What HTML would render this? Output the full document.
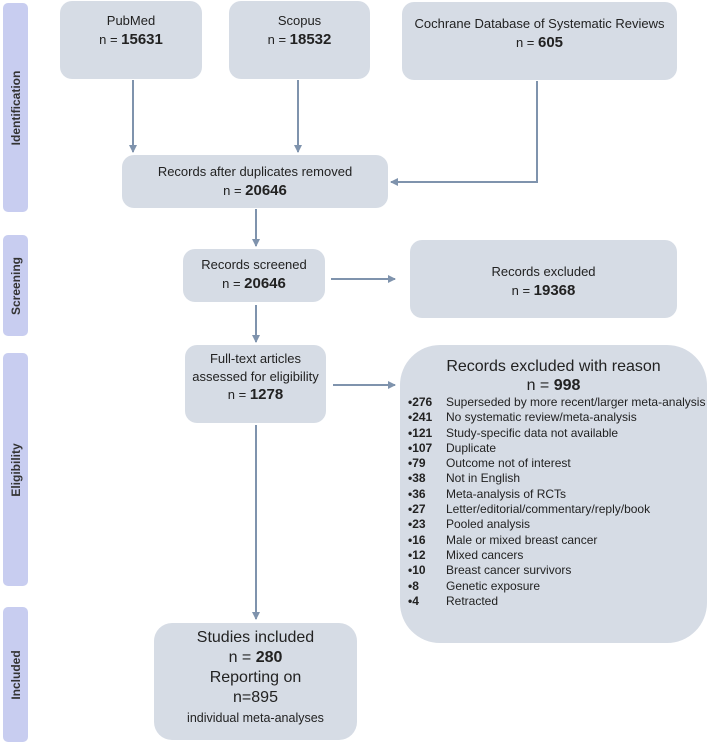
<!DOCTYPE html>
<html><head><meta charset="utf-8"><style>
body{margin:0;width:708px;height:746px;background:#fff;position:relative;font-family:"Liberation Sans",sans-serif;color:#222;overflow:hidden}
.b{position:absolute;background:#d6dce5;border-radius:12px;text-align:center;font-size:13px;line-height:19px;box-sizing:border-box}
.s{position:absolute;background:#c8cdf0;border-radius:5px;left:3px;width:25px}
.s span{position:absolute;left:50%;top:50%;transform:translate(-50%,-50%) rotate(-90deg);font-weight:bold;font-size:12px;white-space:nowrap;color:#333}
b{font-weight:bold;font-size:15px}
.li{display:flex;font-size:12px;line-height:15.3px;text-align:left;white-space:nowrap}
.li b{font-size:12px;width:38px;flex:none;display:inline-block}
</style></head><body>
<div class="s" style="top:3px;height:209px"><span>Identification</span></div>
<div class="s" style="top:235px;height:101px"><span>Screening</span></div>
<div class="s" style="top:353px;height:233px"><span>Eligibility</span></div>
<div class="s" style="top:607px;height:135px"><span>Included</span></div>

<div class="b" style="left:60px;top:1px;width:142px;height:78px;padding-top:10px">PubMed<br>n = <b>15631</b></div>
<div class="b" style="left:229px;top:1px;width:141px;height:78px;padding-top:10px">Scopus<br>n = <b>18532</b></div>
<div class="b" style="left:402px;top:2px;width:275px;height:78px;padding-top:12px">Cochrane Database of Systematic Reviews<br>n = <b>605</b></div>
<div class="b" style="left:122px;top:155px;width:266px;height:53px;padding-top:7px">Records after duplicates removed<br>n = <b>20646</b></div>
<div class="b" style="left:183px;top:249px;width:142px;height:53px;padding-top:6px">Records screened<br>n = <b>20646</b></div>
<div class="b" style="left:410px;top:240px;width:267px;height:78px;padding-top:22px">Records excluded<br>n = <b>19368</b></div>
<div class="b" style="left:185px;top:345px;width:141px;height:78px;padding-top:5px;line-height:18px">Full-text articles<br>assessed for eligibility<br>n = <b>1278</b></div>
<div class="b" style="left:154px;top:623px;width:203px;height:117px;padding-top:5px;font-size:16px;line-height:20px;border-radius:18px">Studies included<br>n = <b style="font-size:16px">280</b><br>Reporting on<br>n=895<br><span style="font-size:12.5px">individual meta-analyses</span></div>
<div class="b" style="left:400px;top:345px;width:307px;height:298px;padding:12px 0 0 8px;border-radius:40px">
<div style="font-size:16px;line-height:19px;text-align:center;padding-right:8px">Records excluded with reason<br>n = <b style="font-size:16px">998</b></div>
<div class="li"><b>•276</b>Superseded by more recent/larger meta-analysis</div>
<div class="li"><b>•241</b>No systematic review/meta-analysis</div>
<div class="li"><b>•121</b>Study-specific data not available</div>
<div class="li"><b>•107</b>Duplicate</div>
<div class="li"><b>•79</b>Outcome not of interest</div>
<div class="li"><b>•38</b>Not in English</div>
<div class="li"><b>•36</b>Meta-analysis of RCTs</div>
<div class="li"><b>•27</b>Letter/editorial/commentary/reply/book</div>
<div class="li"><b>•23</b>Pooled analysis</div>
<div class="li"><b>•16</b>Male or mixed breast cancer</div>
<div class="li"><b>•12</b>Mixed cancers</div>
<div class="li"><b>•10</b>Breast cancer survivors</div>
<div class="li"><b>•8</b>Genetic exposure</div>
<div class="li"><b>•4</b>Retracted</div>
</div>

<svg width="708" height="746" style="position:absolute;left:0;top:0" fill="none" stroke="#7f93ad" stroke-width="2">
<defs><marker id="a" markerWidth="8" markerHeight="8" refX="7" refY="4" orient="auto" markerUnits="userSpaceOnUse"><path d="M0,0 L8,4 L0,8Z" fill="#7f93ad" stroke="none"/></marker></defs>
<line x1="133" y1="80" x2="133" y2="152" marker-end="url(#a)"/>
<line x1="298" y1="80" x2="298" y2="152" marker-end="url(#a)"/>
<polyline points="537,81 537,182 391,182" marker-end="url(#a)"/>
<line x1="256" y1="209" x2="256" y2="246" marker-end="url(#a)"/>
<line x1="256" y1="305" x2="256" y2="342" marker-end="url(#a)"/>
<line x1="256" y1="425" x2="256" y2="619" marker-end="url(#a)"/>
<line x1="331" y1="279" x2="395" y2="279" marker-end="url(#a)"/>
<line x1="333" y1="385" x2="395" y2="385" marker-end="url(#a)"/>
</svg>
</body></html>
